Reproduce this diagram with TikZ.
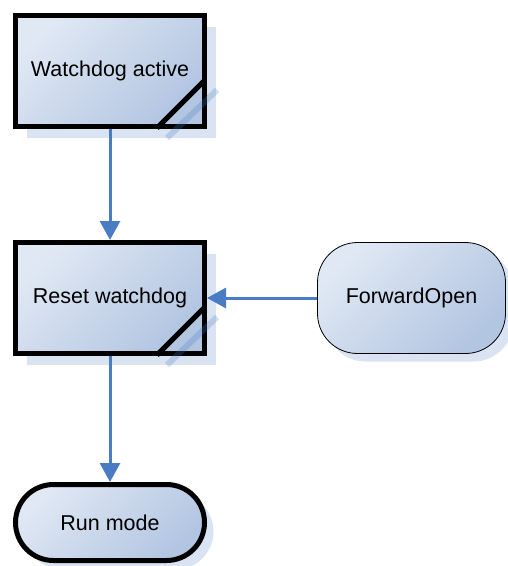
\documentclass[tikz,border=0pt]{standalone}
\usepackage{fontspec}
\setmainfont{Liberation Sans}
\usetikzlibrary{positioning, calc, arrows.meta, shadows}
\definecolor{flowlight}{HTML}{E0E8F4}
\definecolor{flowdark}{HTML}{B2C5E1}
\definecolor{flowshadow}{HTML}{DAE3F1}
\definecolor{flowblue}{HTML}{4A7CC3}

\begin{document}
\begin{tikzpicture}[x=1pt, y=-1pt,
    stepbox/.style={rectangle, draw=black, line width=5pt,
        minimum width=189pt, minimum height=111pt,
        top color=flowlight, bottom color=flowdark, shading angle=45,
        drop shadow={shadow xshift=11pt, shadow yshift=-11pt, fill=flowshadow, opacity=1},
        font=\fontsize{21.5}{25}\selectfont},
    termbox/.style={rectangle, rounded corners=38pt, draw=black, line width=5pt,
        minimum width=189pt, minimum height=76pt,
        top color=flowlight, bottom color=flowdark, shading angle=45,
        drop shadow={shadow xshift=9pt, shadow yshift=-9pt, fill=flowshadow, opacity=1},
        font=\fontsize{21.5}{25}\selectfont},
    eventbox/.style={rectangle, rounded corners=40pt, draw=black, line width=0.8pt,
        minimum width=188pt, minimum height=111pt,
        top color=flowlight, bottom color=flowdark, shading angle=45,
        drop shadow={shadow xshift=8pt, shadow yshift=-8pt, fill=flowshadow, opacity=1},
        font=\fontsize{21.5}{25}\selectfont},
    flow/.style={draw=flowblue, line width=3pt, -{Triangle[length=19pt, width=20pt]}},
    foldmark/.style={line width=5pt},
    foldshadow/.style={line width=6pt, draw=flowblue, opacity=0.25}]

    \useasboundingbox (0,0) rectangle (508,566);

    % Boxes
    \node[stepbox] (active) at (110,71) {Watchdog active};
    \node[stepbox] (reset) at (110,298) {Reset watchdog};
    \node[eventbox] (fwdopen) at (411.5,298) {ForwardOpen};
    \node[termbox] (run) at (110,522.5) {Run mode};

    % Folded corners
    \foreach \stepname in {active, reset} {
        \draw[foldmark] ($(\stepname.south east)+(-50,-1)$) -- ($(\stepname.south east)+(-2,-49)$);
        \draw[foldshadow] ($(\stepname.south east)+(-40,9)$) -- ($(\stepname.south east)+(10,-39)$);
    }

    % Connectors
    \draw[flow] (active) -- (reset);
    \draw[flow] (fwdopen) -- (reset);
    \draw[flow] (reset) -- (run);
\end{tikzpicture}
\end{document}
